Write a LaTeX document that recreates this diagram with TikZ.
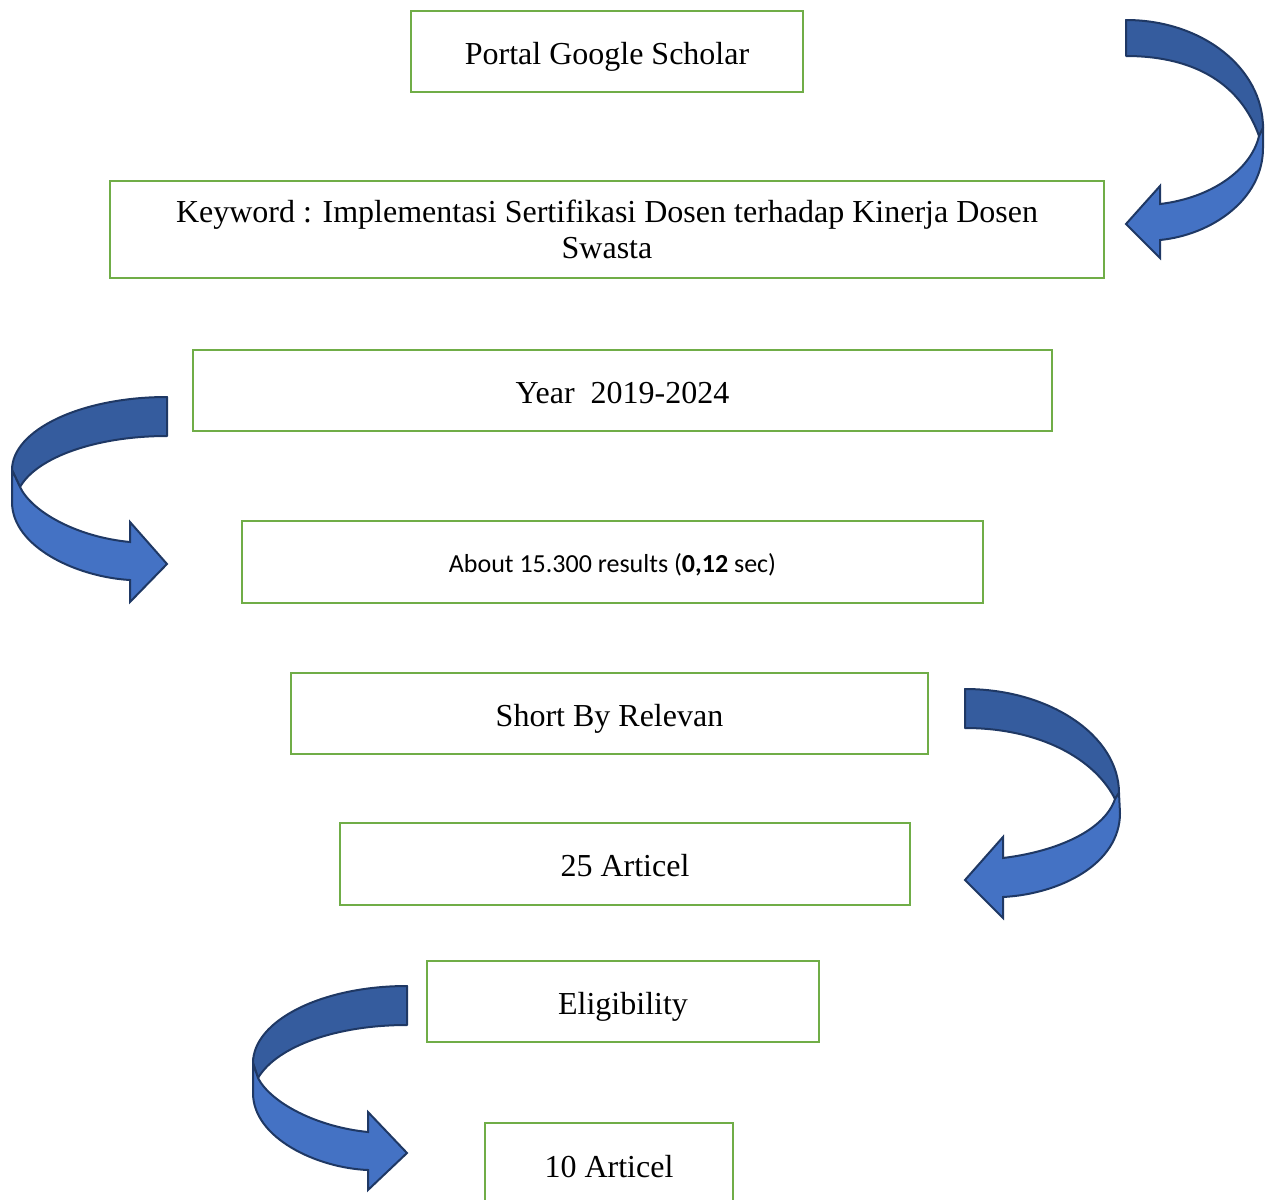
\documentclass[tikz,border=0pt]{standalone}
\usepackage{fontspec}
\setmainfont{Liberation Serif}
\newfontfamily\calfont{Carlito}
\definecolor{boxgreen}{HTML}{70AD47}
\definecolor{arrdark}{HTML}{355C9E}
\definecolor{arrlight}{HTML}{4472C4}
\definecolor{arrline}{HTML}{1F3864}
\begin{document}
\begin{tikzpicture}[x=1pt,y=-1pt,
  box/.style={draw=boxgreen, line width=2.9pt, fill=white, inner sep=0pt,
    font=\fontsize{32}{37}\selectfont, align=center},
  oneline/.style={text height=25pt, text depth=0pt},
  darkband/.style={fill=arrdark, draw=arrline, line width=2pt, line join=round},
  lightband/.style={fill=arrlight, draw=arrline, line width=2pt, line join=miter}]
\useasboundingbox (0,0) rectangle (1267,1200);
\clip (0,0) rectangle (1267,1200);

% boxes
\node[box, oneline, minimum width=392, minimum height=81] (portal) at (607,51.5) {Portal Google Scholar};
\node[box, minimum width=994, minimum height=97] (keyword) at (607,229.5)
  {\raisebox{-1.5pt}{Keyword : Implementasi Sertifikasi Dosen terhadap Kinerja Dosen}\\Swasta};
\node[box, oneline, minimum width=859, minimum height=81] (year) at (622.5,390.5) {Year\ \ 2019-2024};
\node[box, minimum width=741, minimum height=82, text height=21pt, text depth=0pt,
  font=\calfont\fontsize{26}{30}\selectfont] (about) at (612.5,562)
  {About 15.300 results (\textbf{0,12} sec)};
\node[box, oneline, minimum width=637, minimum height=81] (short) at (609.5,713.5) {Short By Relevan};
\node[box, oneline, minimum width=570, minimum height=82] (art25) at (625,864) {25 Articel};
\node[box, oneline, minimum width=392, minimum height=81] (elig) at (623,1001.5) {Eligibility};
\node[box, oneline, minimum width=248, minimum height=84] (art10) at (609,1165) {10 Articel};

% arrow 1 (right, top)
\begin{scope}[shift={(1126,20)}, xscale=-1]
  \path[darkband] (0,0) .. controls (-76,0) and (-137,48) .. (-137,108)
    -- (-133,116) .. controls (-115,65) and (-70,36) .. (0,36) -- cycle;
  \path[lightband] (-137,108) -- (-137,128) .. controls (-137,180) and (-85,215) .. (-34,220)
    -- (-34,238) -- (0,204) -- (-34,166) -- (-34,184)
    .. controls (-85,178) and (-125,150) .. (-133,116) -- cycle;
\end{scope}

% arrow 2 (left)
\begin{scope}[shift={(167,397)}]
  \path[darkband] (0,0) .. controls (-86,0) and (-155,33) .. (-155,73)
    -- (-147,90) .. controls (-130,60) and (-70,39) .. (0,39) -- cycle;
  \path[lightband] (-155,73) -- (-155,105) .. controls (-155,150) and (-90,180) .. (-37,183)
    -- (-37,205) -- (0,167) -- (-37,125) -- (-37,145)
    .. controls (-90,140) and (-135,115) .. (-147,90) -- cycle;
\end{scope}

% arrow 3 (right, middle)
\begin{scope}[shift={(965,689)}, xscale=-1]
  \path[darkband] (0,0) .. controls (-85,0) and (-154,47) .. (-154,104)
    -- (-150,110) .. controls (-130,70) and (-75,39) .. (0,39) -- cycle;
  \path[lightband] (-154,104) -- (-155,124) .. controls (-155,175) and (-95,205) .. (-38,208)
    -- (-38,229) -- (0,191) -- (-38,148) -- (-38,169)
    .. controls (-95,162) and (-140,140) .. (-150,110) -- cycle;
\end{scope}

% arrow 4 (left, bottom)
\begin{scope}[shift={(407,986)}]
  \path[darkband] (0,0) .. controls (-86,0) and (-154,35) .. (-154,77)
    -- (-149,92) .. controls (-130,60) and (-70,39) .. (0,39) -- cycle;
  \path[lightband] (-154,77) -- (-154,107) .. controls (-154,152) and (-90,182) .. (-39,184)
    -- (-39,204) -- (0,167) -- (-39,126) -- (-39,146)
    .. controls (-90,141) and (-136,117) .. (-149,92) -- cycle;
\end{scope}
\end{tikzpicture}
\end{document}
